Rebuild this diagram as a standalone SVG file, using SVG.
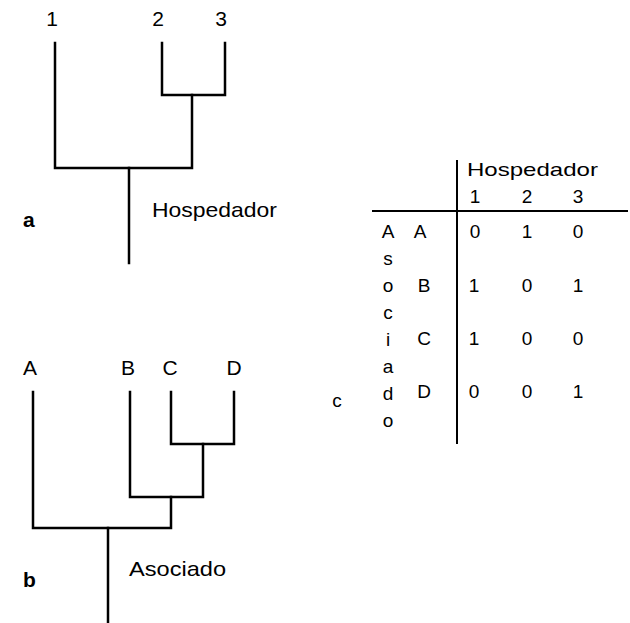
<svg xmlns="http://www.w3.org/2000/svg" width="630" height="623" viewBox="0 0 630 623">
<style>
.t{font-family:"Liberation Sans",Arial,sans-serif;fill:#000}
.lab{font-size:21px;text-anchor:middle}
.big{font-size:21px}
.pl{font-size:21px;font-weight:bold}
.m{font-size:19px;text-anchor:middle}
.ln{stroke:#000;stroke-width:2.5;fill:none;stroke-linecap:square}
.thin{stroke:#000;stroke-width:2;fill:none}
</style>
<rect width="630" height="623" fill="#fff"/>
<g id="treeA">
<g id="treeA-labels">
<text class="t lab" x="52" y="26">1</text>
<text class="t lab" x="158" y="26">2</text>
<text class="t lab" x="221" y="26">3</text>
<text class="t big" x="152" y="217" textLength="125" lengthAdjust="spacingAndGlyphs">Hospedador</text>
<text class="t pl" x="23" y="227">a</text>
</g>
<g id="treeA-connectors">
<path class="ln" d="M55,43 V168 H192 V95"/>
<path class="ln" d="M162,43 V95 H225 V43"/>
<path class="ln" d="M129,168 V263"/>
</g>
</g>
<g id="treeB">
<g id="treeB-labels">
<text class="t lab" x="30" y="375">A</text>
<text class="t lab" x="128" y="375">B</text>
<text class="t lab" x="170" y="375">C</text>
<text class="t lab" x="234" y="375">D</text>
<text class="t big" x="129" y="576" textLength="97" lengthAdjust="spacingAndGlyphs">Asociado</text>
<text class="t pl" x="23" y="587">b</text>
</g>
<g id="treeB-connectors">
<path class="ln" d="M33,392 V528 H171 V497"/>
<path class="ln" d="M130,392 V497 H203 V444"/>
<path class="ln" d="M171,392 V444 H234 V392"/>
<path class="ln" d="M108,528 V623"/>
</g>
</g>
<g id="matrix">
<g id="matrix-lines">
<line class="thin" x1="457" y1="160" x2="457" y2="444"/>
<line class="thin" x1="372" y1="211" x2="628" y2="211"/>
</g>
<g id="matrix-header">
<text class="t" style="font-size:19px" x="467" y="176" textLength="131" lengthAdjust="spacingAndGlyphs">Hospedador</text>
<text class="t m" x="475" y="203">1</text>
<text class="t m" x="527" y="203">2</text>
<text class="t m" x="578" y="203">3</text>
</g>
<g id="matrix-rowlabels">
<text class="t m" x="388" y="238">A</text>
<text class="t m" x="388" y="265">s</text>
<text class="t m" x="388" y="292">o</text>
<text class="t m" x="388" y="319">c</text>
<text class="t m" x="388" y="346">i</text>
<text class="t m" x="388" y="373">a</text>
<text class="t m" x="388" y="400">d</text>
<text class="t m" x="388" y="427">o</text>
<text class="t m" x="420" y="238">A</text>
<text class="t m" x="424" y="292">B</text>
<text class="t m" x="424" y="345">C</text>
<text class="t m" x="424" y="398">D</text>
<text class="t m" x="337" y="407">c</text>
</g>
<g id="matrix-values">
<text class="t m" x="475" y="238">0</text>
<text class="t m" x="527" y="238">1</text>
<text class="t m" x="578" y="238">0</text>
<text class="t m" x="474" y="292">1</text>
<text class="t m" x="527" y="292">0</text>
<text class="t m" x="578" y="292">1</text>
<text class="t m" x="474" y="345">1</text>
<text class="t m" x="527" y="345">0</text>
<text class="t m" x="578" y="345">0</text>
<text class="t m" x="474" y="398">0</text>
<text class="t m" x="527" y="398">0</text>
<text class="t m" x="578" y="398">1</text>
</g>
</g>
</svg>
